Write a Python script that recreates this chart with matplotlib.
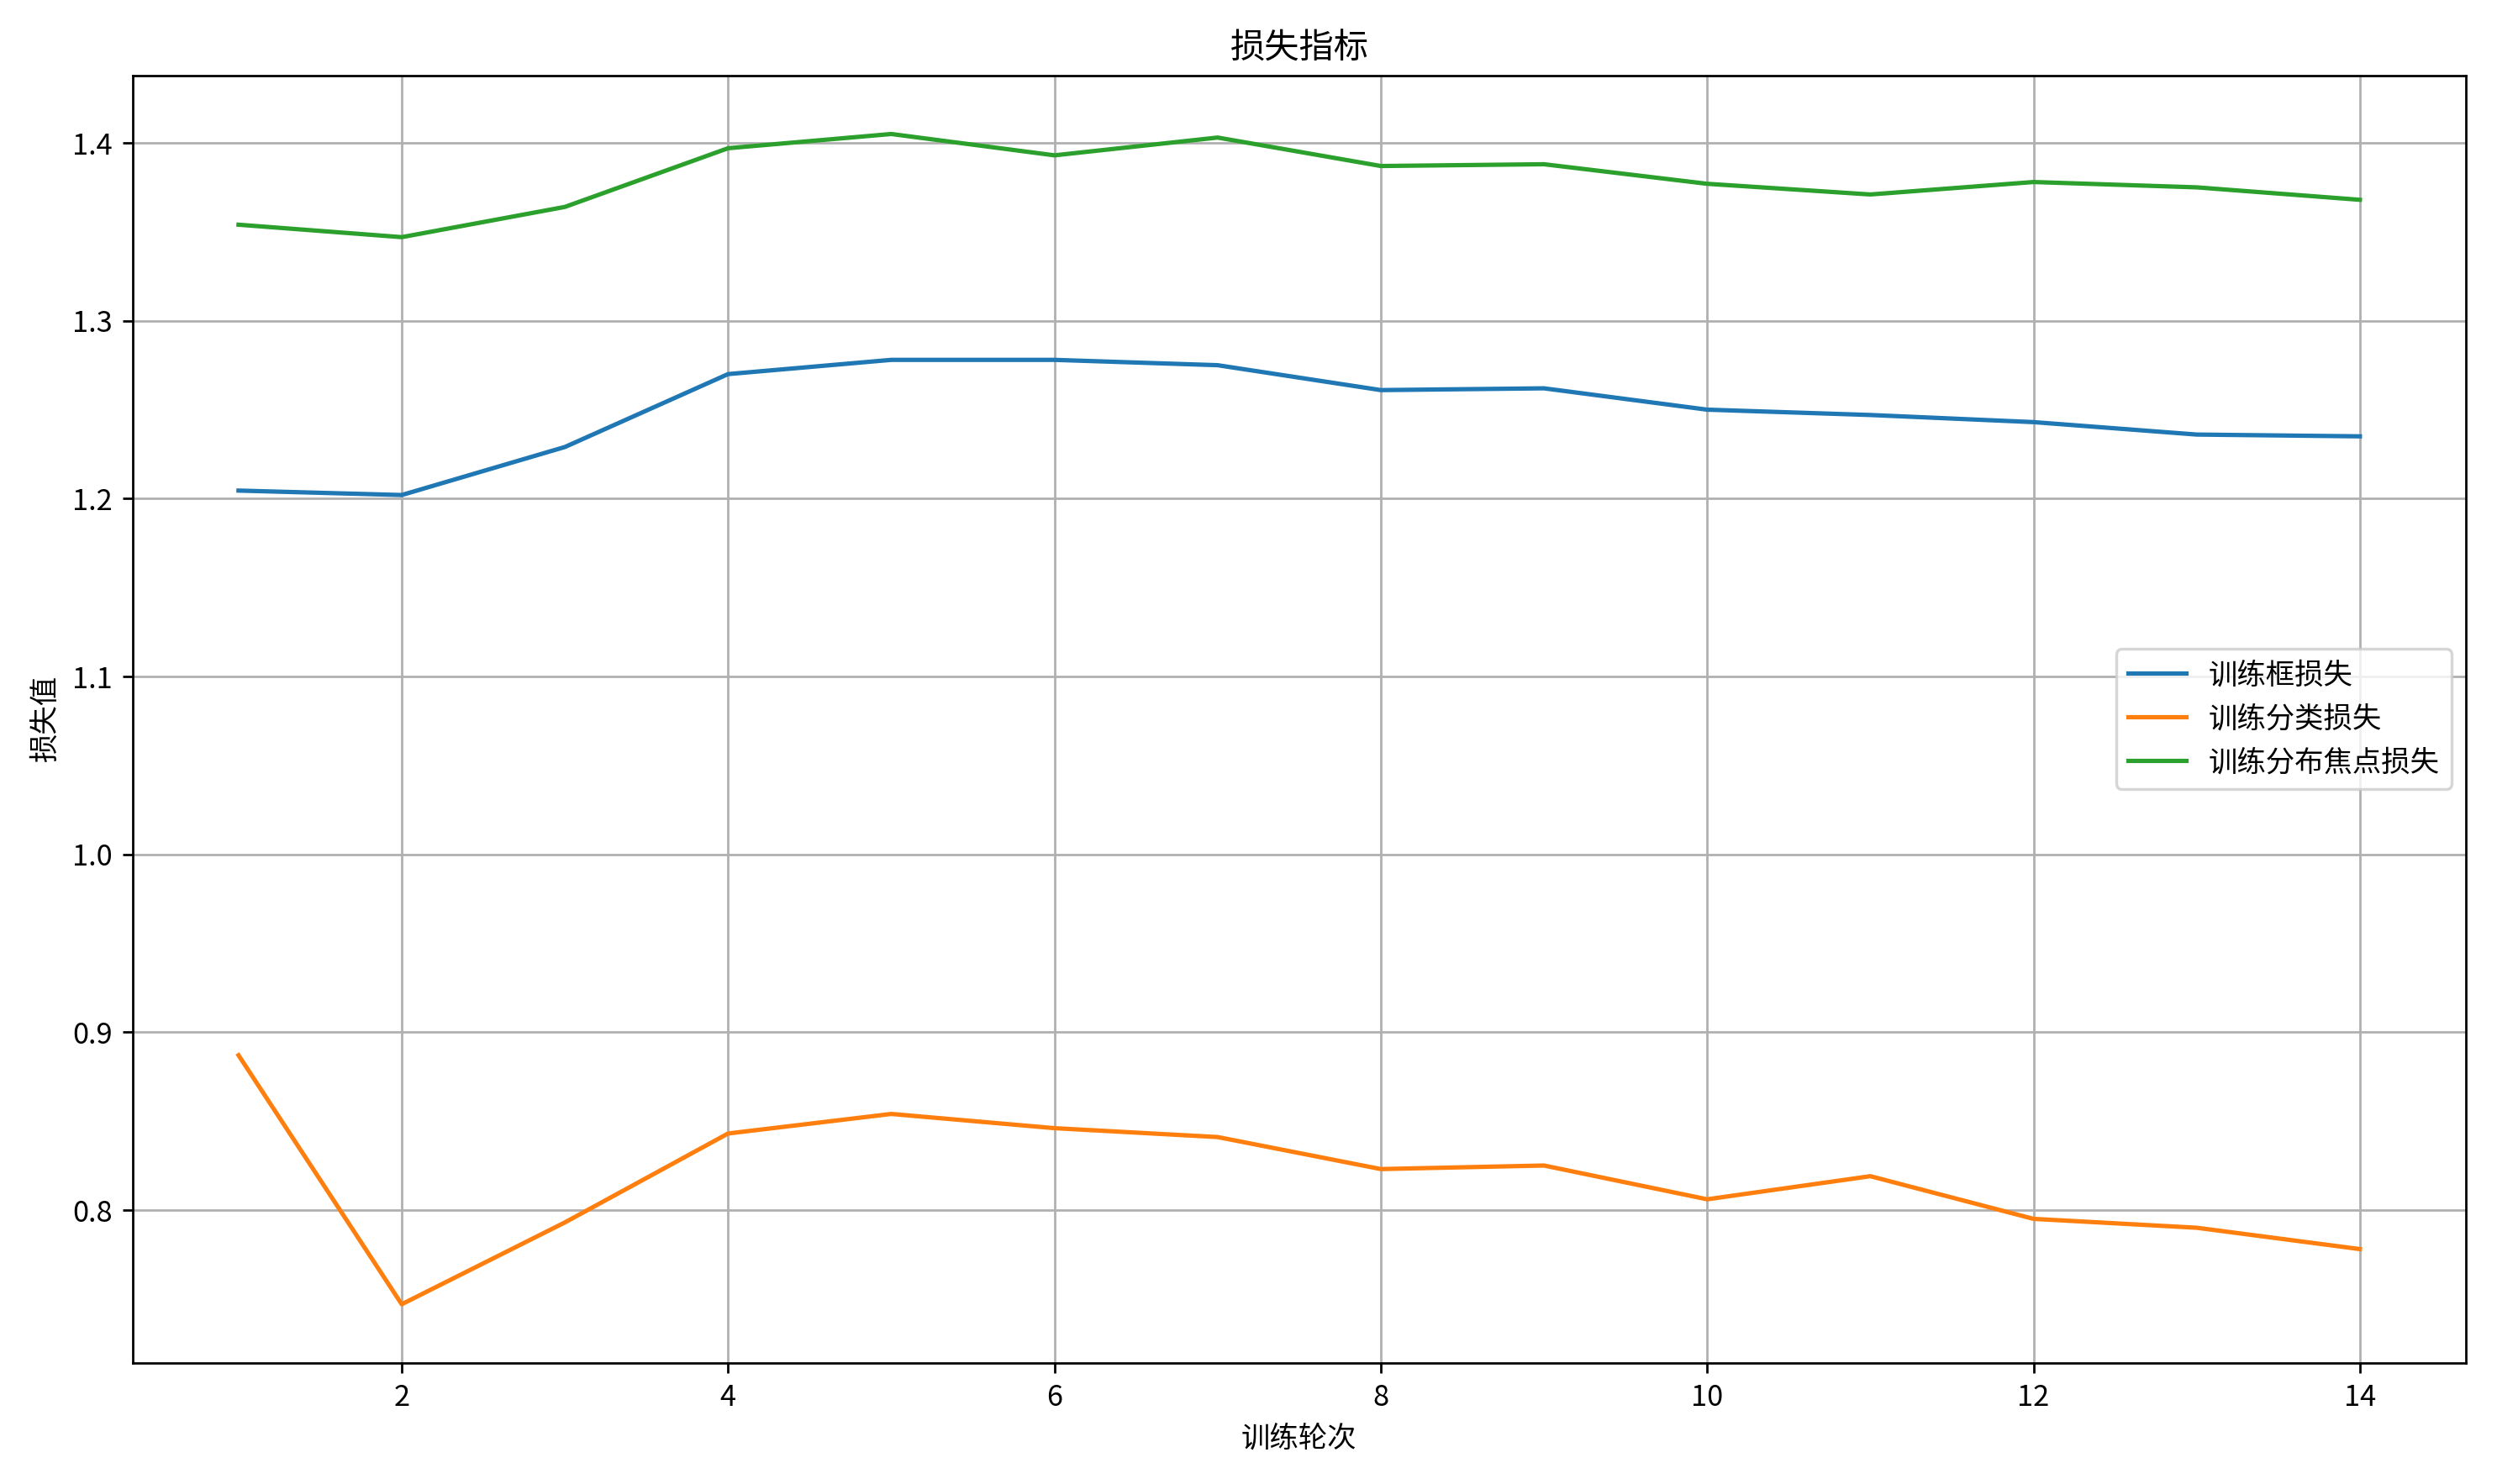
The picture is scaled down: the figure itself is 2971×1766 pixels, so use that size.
import matplotlib
matplotlib.use('Agg')
import matplotlib.pyplot as plt

plt.rcParams['font.family'] = ['Noto Sans CJK SC', 'DejaVu Sans']
plt.rcParams['axes.unicode_minus'] = False

epochs = list(range(1, 15))
box_loss = [1.2045, 1.202, 1.229, 1.270, 1.278, 1.278, 1.275, 1.261, 1.262, 1.250, 1.247, 1.243, 1.236, 1.235]
cls_loss = [0.887, 0.747, 0.793, 0.843, 0.854, 0.846, 0.841, 0.823, 0.825, 0.806, 0.819, 0.795, 0.790, 0.778]
dfl_loss = [1.354, 1.347, 1.364, 1.397, 1.405, 1.393, 1.403, 1.387, 1.388, 1.377, 1.371, 1.378, 1.375, 1.368]

fig, ax = plt.subplots(figsize=(12, 7.133))
ax.plot(epochs, box_loss, label='训练框损失')
ax.plot(epochs, cls_loss, label='训练分类损失')
ax.plot(epochs, dfl_loss, label='训练分布焦点损失')
ax.set_title('损失指标')
ax.set_xlabel('训练轮次')
ax.set_ylabel('损失值')
ax.grid(True)
ax.legend(loc='center right')
fig.tight_layout()
plt.savefig('out.png', dpi=247.6)
